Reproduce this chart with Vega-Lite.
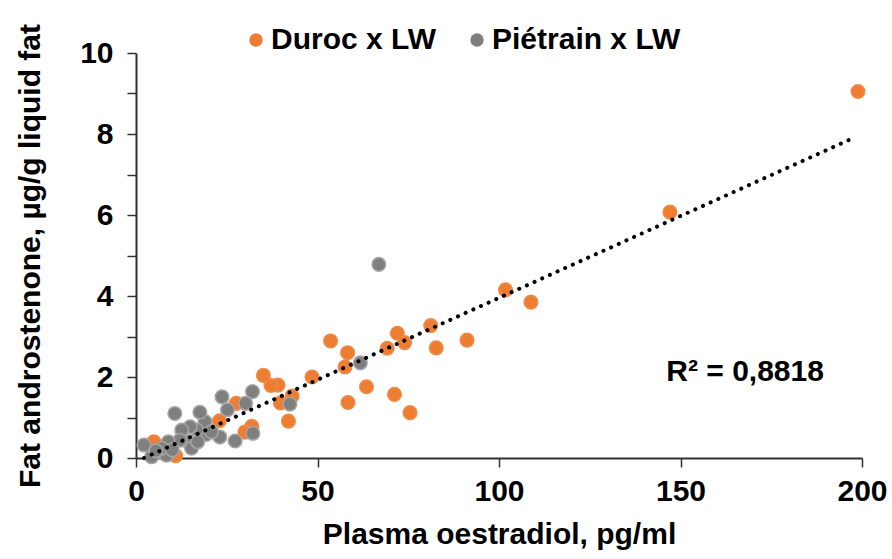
{
  "$schema": "https://vega.github.io/schema/vega-lite/v6.json",
  "width": 726,
  "height": 405,
  "autosize": "none",
  "padding": {"left": 136, "top": 53, "right": 30, "bottom": 101},
  "background": "white",
  "config": {
    "view": {"stroke": null},
    "font": "Liberation Sans",
    "axis": {
      "grid": false,
      "domainColor": "#303030",
      "domainWidth": 2,
      "tickColor": "#303030",
      "tickWidth": 1.5,
      "tickSize": 9,
      "labelFlush": false,
      "labelFont": "Liberation Sans",
      "labelFontWeight": "bold",
      "labelFontSize": 30,
      "labelColor": "#000000",
      "titleFont": "Liberation Sans",
      "titleFontWeight": "bold",
      "titleFontSize": 30,
      "titleColor": "#000000"
    }
  },
  "datasets": {
    "pts": [
      {"x": 198.9, "y": 9.05, "g": "Duroc x LW"},
      {"x": 147.1, "y": 6.07, "g": "Duroc x LW"},
      {"x": 101.8, "y": 4.15, "g": "Duroc x LW"},
      {"x": 108.8, "y": 3.85, "g": "Duroc x LW"},
      {"x": 91.2, "y": 2.91, "g": "Duroc x LW"},
      {"x": 82.7, "y": 2.72, "g": "Duroc x LW"},
      {"x": 81.2, "y": 3.27, "g": "Duroc x LW"},
      {"x": 72.0, "y": 3.08, "g": "Duroc x LW"},
      {"x": 74.0, "y": 2.85, "g": "Duroc x LW"},
      {"x": 69.2, "y": 2.71, "g": "Duroc x LW"},
      {"x": 71.2, "y": 1.57, "g": "Duroc x LW"},
      {"x": 75.5, "y": 1.12, "g": "Duroc x LW"},
      {"x": 63.5, "y": 1.76, "g": "Duroc x LW"},
      {"x": 58.4, "y": 1.37, "g": "Duroc x LW"},
      {"x": 58.3, "y": 2.6, "g": "Duroc x LW"},
      {"x": 57.6, "y": 2.25, "g": "Duroc x LW"},
      {"x": 53.6, "y": 2.89, "g": "Duroc x LW"},
      {"x": 48.5, "y": 2.0, "g": "Duroc x LW"},
      {"x": 42.0, "y": 0.91, "g": "Duroc x LW"},
      {"x": 43.0, "y": 1.53, "g": "Duroc x LW"},
      {"x": 39.8, "y": 1.36, "g": "Duroc x LW"},
      {"x": 39.1, "y": 1.8, "g": "Duroc x LW"},
      {"x": 37.2, "y": 1.79, "g": "Duroc x LW"},
      {"x": 35.1, "y": 2.04, "g": "Duroc x LW"},
      {"x": 27.6, "y": 1.35, "g": "Duroc x LW"},
      {"x": 31.9, "y": 0.78, "g": "Duroc x LW"},
      {"x": 30.0, "y": 0.64, "g": "Duroc x LW"},
      {"x": 23.0, "y": 0.92, "g": "Duroc x LW"},
      {"x": 4.9, "y": 0.4, "g": "Duroc x LW"},
      {"x": 10.9, "y": 0.06, "g": "Duroc x LW"},
      {"x": 7.0, "y": 0.15, "g": "Duroc x LW"},
      {"x": 66.9, "y": 4.78, "g": "Piétrain x LW"},
      {"x": 61.8, "y": 2.35, "g": "Piétrain x LW"},
      {"x": 42.4, "y": 1.33, "g": "Piétrain x LW"},
      {"x": 32.1, "y": 1.64, "g": "Piétrain x LW"},
      {"x": 30.2, "y": 1.35, "g": "Piétrain x LW"},
      {"x": 25.2, "y": 1.19, "g": "Piétrain x LW"},
      {"x": 23.7, "y": 1.51, "g": "Piétrain x LW"},
      {"x": 32.2, "y": 0.61, "g": "Piétrain x LW"},
      {"x": 27.3, "y": 0.42, "g": "Piétrain x LW"},
      {"x": 23.1, "y": 0.52, "g": "Piétrain x LW"},
      {"x": 19.3, "y": 0.58, "g": "Piétrain x LW"},
      {"x": 19.0, "y": 0.9, "g": "Piétrain x LW"},
      {"x": 17.6, "y": 1.13, "g": "Piétrain x LW"},
      {"x": 16.7, "y": 0.69, "g": "Piétrain x LW"},
      {"x": 14.9, "y": 0.77, "g": "Piétrain x LW"},
      {"x": 14.4, "y": 0.4, "g": "Piétrain x LW"},
      {"x": 12.6, "y": 0.69, "g": "Piétrain x LW"},
      {"x": 12.1, "y": 0.44, "g": "Piétrain x LW"},
      {"x": 10.7, "y": 1.1, "g": "Piétrain x LW"},
      {"x": 8.9, "y": 0.4, "g": "Piétrain x LW"},
      {"x": 8.4, "y": 0.07, "g": "Piétrain x LW"},
      {"x": 7.1, "y": 0.24, "g": "Piétrain x LW"},
      {"x": 4.3, "y": 0.03, "g": "Piétrain x LW"},
      {"x": 2.2, "y": 0.32, "g": "Piétrain x LW"},
      {"x": 15.3, "y": 0.24, "g": "Piétrain x LW"},
      {"x": 17.0, "y": 0.4, "g": "Piétrain x LW"},
      {"x": 20.8, "y": 0.65, "g": "Piétrain x LW"},
      {"x": 5.5, "y": 0.18, "g": "Piétrain x LW"},
      {"x": 10.0, "y": 0.2, "g": "Piétrain x LW"}
    ],
    "trend": [
      {"x": 2.2, "y": 0.0},
      {"x": 197.6, "y": 7.9}
    ]
  },
  "layer": [
    {
      "data": {"name": "pts"},
      "mark": {"type": "point", "filled": true, "opacity": 1, "strokeWidth": 1.5, "size": 185},
      "encoding": {
        "x": {
          "field": "x", "type": "quantitative",
          "scale": {"domain": [0, 200], "nice": false},
          "axis": {"values": [0, 50, 100, 150, 200], "title": "Plasma oestradiol, pg/ml", "labelPadding": 9, "titlePadding": 13}
        },
        "y": {
          "field": "y", "type": "quantitative",
          "scale": {"domain": [0, 10], "nice": false},
          "axis": {
            "values": [0, 1, 2, 3, 4, 5, 6, 7, 8, 9, 10],
            "labelExpr": "datum.value % 2 == 0 ? datum.label : ''",
            "title": "Fat androstenone, µg/g liquid fat",
            "labelPadding": 14,
            "titlePadding": 34
          }
        },
        "color": {
          "field": "g", "type": "nominal",
          "scale": {"domain": ["Duroc x LW", "Piétrain x LW"], "range": ["#ED7D31", "#7F7F7F"]},
          "legend": {
            "title": null,
            "orient": "none",
            "direction": "horizontal",
            "legendX": 105,
            "legendY": -28,
            "padding": 0,
            "symbolType": "circle",
            "symbolSize": 180,
            "symbolStrokeWidth": 0,
            "labelFont": "Liberation Sans",
            "labelFontWeight": "bold",
            "labelFontSize": 30,
            "labelColor": "#000000",
            "labelOffset": 0,
            "labelLimit": 400,
            "columnPadding": 25
          }
        },
        "stroke": {
          "field": "g", "type": "nominal",
          "scale": {"domain": ["Duroc x LW", "Piétrain x LW"], "range": ["#EF8A48", "#A5A5A5"]},
          "legend": null
        }
      }
    },
    {
      "data": {"name": "trend"},
      "mark": {"type": "line", "color": "#000000", "strokeWidth": 4, "strokeCap": "round", "strokeDash": [0.1, 8.3]},
      "encoding": {
        "x": {"field": "x", "type": "quantitative"},
        "y": {"field": "y", "type": "quantitative"}
      }
    },
    {
      "data": {"values": [{"label": "R² = 0,8818"}]},
      "mark": {"type": "text", "font": "Liberation Sans", "fontWeight": "bold", "fontSize": 30, "color": "#000000", "align": "center", "baseline": "middle"},
      "encoding": {
        "x": {"datum": 167.8, "type": "quantitative"},
        "y": {"datum": 2.12, "type": "quantitative"},
        "text": {"field": "label"}
      }
    }
  ]
}
